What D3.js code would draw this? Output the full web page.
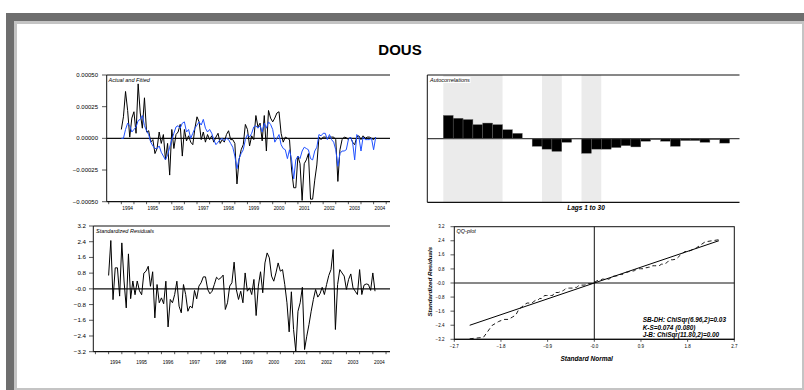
<!DOCTYPE html>
<html>
<head>
<meta charset="utf-8">
<script src="https://cdn.jsdelivr.net/npm/d3@7"></script>
<style>
  body { margin: 0; background: #fff; }
  svg { display: block; font-family: "Liberation Sans", Arial, sans-serif; }
</style>
</head>
<body>
<svg id="chart" width="804" height="390"></svg>
<script>
// ---- data -----------------------------------------------------------------
// monthly observations starting January 1994
const firstYear = 1994;

// actual series, in units of 1e-4
const actualE4 = [0.7, 1.7, 3.7, 2.2, 0.1, 1.6, 2.1, 0.4, 4.3, 2.0, 0.8, 3.2,
  0.5, 0.6, -0.3, -0.1, -1.2, -0.8, 0.5, -0.4, 0.3, -1.7, -0.4, -2.9,
  0.7, -0.8, 0.3, 0.5, 1.1, -1.4, 0.7, -0.2, 0.2, -0.3, -0.5, 0.8,
  1.7, 1.3, -0.1, 0.5, -0.3, 0.3, -0.1, 0.2, -0.3, 0.1, 0.4, -0.4,
  -0.1, -0.3, 0.3, 0.6, -0.1, -0.1, -0.4, -3.6, -1.7, -0.9, -0.5, 1.1,
  0.7, -0.6, 0.2, -0.1, 1.8, 0.9, 1.2, -0.2, 1.8, -1.0, 2.2, 1.6,
  1.3, 1.6, 2.0, 2.1, 0.4, -0.3, 0.1, 0.0, -0.1, -2.5, -3.9, -3.9,
  -1.4, -2.0, -4.9, -2.0, -1.7, -1.2, -4.8, -4.8, -3.3, -2.1, 0.1, -0.1,
  0.1, 0.1, 0.0, 0.1, 0.1, 0.1, -0.1, -3.4, -0.9, -0.1, 0.1, 0.05,
  -0.1, 0.1, -0.3, -0.5, 0.1, 0.2, -0.1, 0.2, 0.0, 0.1, 0.1, 0.0,
  -0.1, 0.1];

// fitted series, in units of 1e-4
const fittedE4 = [0.0, 0.0, 0.7, 1.2, 1.0, 0.5, 0.7, 0.9, 1.4, 1.5, 1.8, 1.0,
  0.6, 0.3, -0.3, -0.6, -0.8, -0.8, -0.6, -1.1, -1.4, -1.7, -1.3, -0.7,
  -0.1, 0.4, 0.9, 1.0, 0.8, 1.2, 1.3, 0.5, 0.7, 0.0, 0.4, 0.8,
  1.05, 1.3, 1.05, 1.5, 0.8, 0.5, 0.7, 0.4, -0.1, -0.5, -0.3, -0.1,
  0.0, -0.2, 0.0, -0.1, -0.4, -0.7, -1.4, -2.4, -1.6, -1.2, -0.9, -0.1,
  0.3, 0.1, 0.4, 0.9, 1.0, 0.8, 1.0, 0.5, 1.2, 0.8, 1.3, 1.1,
  0.7, -0.3, 0.0, 0.3, -0.5, -0.8, -0.9, -1.6, -0.9, -1.7, -3.2, -1.7,
  -1.4, -1.6, -1.0, -0.7, -0.8, -0.9, -1.6, -1.7, -1.0, -0.7, 0.3, 0.2,
  0.4, 0.4, -0.1, 0.3, -0.1, -0.3, -0.9, -2.2, -1.2, -1.0, -1.0, -0.9,
  -0.1, 0.1, -0.3, -1.7, 0.3, 0.1, -1.0, 0.1, -0.1, -0.1, -0.1, 0.0,
  -0.9, 0.1];

// standardized residuals
const stdResid = [0.68, 2.46, -0.55, 1.07, 1.07, -0.37, 2.34, 0.4, -0.97, 1.78, -0.5, 0.4,
  -0.3, 0.4, -0.1, -0.3, 0.8, 0.9, 1.15, 0.13, 0.87, -1.48, 0.22, -0.71,
  -0.46, -0.76, 0.39, -1.94, -0.54, -0.71, -0.29, 0.39, -0.88, -1.22, 0.22, -0.29,
  -1.14, -0.88, -0.97, -0.08, -0.51, 0.14, 0.31, 0.61, 0.61, -0.03, -0.25, -0.12,
  0.22, 0.59, 0.48, 0.56, 0.7, -1.05, -0.71, 0.14, 0.31, 1.36, -0.03, -0.54,
  -0.12, -0.71, 0.81, -0.12, 0.05, -0.29, 0.48, -1.36, 0.14, 0.87, -0.2, 1.32,
  1.83, 1.58, 0.65, 0.39, 0.81, 1.32, 0.9, 0.98, 0.22, -0.71, -2.19, -0.15,
  -2.07, -3.17, -1.14, -0.71, 0.08, -3.09, -2.41, -1.82, -1.14, -0.54, -0.03, -0.42,
  -0.25, 0.08, -0.29, 0.22, 0.68, 0.98, 2.0, -2.07, 0.22, 0.98, 0.81, 0.65,
  -0.03, 0.48, 0.76, 0.05, -0.12, -0.29, 0.98, -0.29, 0.19, 0.25, 0.22, -0.08,
  0.81, -0.12];

// autocorrelations of the residuals, lags 1..30
const acf = [0.365, 0.32, 0.30, 0.22, 0.245, 0.22, 0.14, 0.083, 0.0, -0.12,
  -0.165, -0.20, -0.057, -0.005, -0.23, -0.165, -0.165, -0.14, -0.11, -0.13,
  -0.04, -0.015, -0.04, -0.12, -0.03, -0.03, -0.057, -0.015, -0.07, 0.0];
// lag ranges highlighted behind the bars
const acfBands = [[1, 6], [11, 12], [15, 16]];

// tick labels
const years = d3.range(1994, 2005);
const fitTicks = [0.0005, 0.00025, 0, -0.00025, -0.0005];
const residTicks = [3.2, 2.4, 1.6, 0.8, 0, -0.8, -1.6, -2.4, -3.2];
const qqXTicks = [-2.7, -1.8, -0.9, 0, 0.9, 1.8, 2.7];
const testLines = ["SB-DH: ChiSqr(6.96,2)=0.03", "K-S=0.074 (0.080)", "J-B: ChiSqr(11.80,2)=0.00"];

const actual = actualE4.map(v => v * 1e-4);
const fitted = fittedE4.map(v => v * 1e-4);
const monthT = i => firstYear + i / 12;

// ---- drawing --------------------------------------------------------------
const svg = d3.select("#chart");

// window frame
svg.append("rect").attr("x", 6).attr("y", 13).attr("width", 798).attr("height", 377).attr("fill", "#6e6e6e");
svg.append("rect").attr("x", 14).attr("y", 21).attr("width", 790).attr("height", 369).attr("fill", "#c4c4c4");
svg.append("rect").attr("x", 17).attr("y", 24).attr("width", 785).attr("height", 364).attr("fill", "#fff");

svg.append("text").attr("x", 400).attr("y", 55).attr("text-anchor", "middle")
  .attr("font-size", 15).attr("font-weight", "bold").text("DOUS");

const fmt1 = v => (v === 0 ? "-0.0" : d3.format(".1f")(v));
const ink = "#111";

function label(g, x, y, txt) {
  const t = g.append("text").attr("x", x).attr("y", y).attr("font-size", 5.5)
    .attr("font-style", "italic").text(txt);
  const b = t.node().getBBox();
  g.insert("rect", "text").attr("x", b.x - 0.5).attr("y", b.y).attr("width", b.width + 1)
    .attr("height", b.height).attr("fill", "#fff");
}

function timeAxis(g, x, yBottom, yLabel) {
  const ticks = d3.range(1993.5, 2005, 0.5).filter(t => t >= x.domain()[0] && t <= x.domain()[1]);
  g.selectAll(null).data(ticks).join("line")
    .attr("x1", d => x(d)).attr("x2", d => x(d))
    .attr("y1", yBottom).attr("y2", yBottom + 2.5).attr("stroke", ink).attr("stroke-width", 0.7);
  g.selectAll(null).data(years).join("text")
    .attr("x", d => x(d + 0.25)).attr("y", yLabel).attr("text-anchor", "middle")
    .attr("font-size", 4.8).text(d => d);
}

// -- Actual and Fitted
{
  const g = svg.append("g");
  const x = d3.scaleLinear().domain([1993.42, 2004.65]).range([106.7, 390]);
  const y = d3.scaleLinear().domain([-0.0005, 0.0005]).range([201.7, 75]);
  g.selectAll(null).data(fitTicks).join("line")
    .attr("x1", 102).attr("x2", x.range()[0]).attr("y1", d => y(d)).attr("y2", d => y(d))
    .attr("stroke", ink).attr("stroke-width", 0.7);
  g.selectAll(null).data(fitTicks).join("text")
    .attr("x", 98).attr("y", d => y(d) + 2).attr("text-anchor", "end").attr("font-size", 6)
    .text(d => d3.format(".5f")(d));
  g.append("line").attr("x1", x.range()[0]).attr("x2", x.range()[1]).attr("y1", y(0)).attr("y2", y(0))
    .attr("stroke", ink).attr("stroke-width", 1.1);
  const line = d3.line().x((d, i) => x(monthT(i))).y(d => y(d));
  g.append("path").datum(actual).attr("d", line).attr("fill", "none").attr("stroke", "#000").attr("stroke-width", 1);
  g.append("path").datum(fitted).attr("d", line).attr("fill", "none").attr("stroke", "#1f50ff").attr("stroke-width", 1);
  g.append("path").attr("d", `M${x.range()[0]},${y.range()[0]}V${y.range()[1]}H${x.range()[1]}`)
    .attr("fill", "none").attr("stroke", ink).attr("stroke-width", 1);
  g.append("line").attr("x1", x.range()[0]).attr("x2", x.range()[1]).attr("y1", y.range()[0]).attr("y2", y.range()[0])
    .attr("stroke", ink).attr("stroke-width", 1.2);
  timeAxis(g, x, y.range()[0], 209.5);
  label(g, 108.5, 82, "Actual and Fitted");
}

// -- Autocorrelations
{
  const g = svg.append("g");
  const x = d3.scaleLinear().domain([-1.62, 30]).range([427.3, 739.5]);
  const y = d3.scaleLinear().domain([-1, 1]).range([202.3, 75]);
  g.selectAll(null).data(acfBands).join("rect")
    .attr("x", d => x(d[0] - 1)).attr("width", d => x(d[1]) - x(d[0] - 1))
    .attr("y", y(1)).attr("height", y(-1) - y(1)).attr("fill", "#ebebeb");
  g.selectAll(null).data(acf).join("rect")
    .attr("x", (d, i) => x(i)).attr("width", x(1) - x(0))
    .attr("y", d => y(Math.max(d, 0))).attr("height", d => Math.abs(y(d) - y(0)))
    .attr("fill", "#000").attr("stroke", "#666").attr("stroke-width", 0.4);
  g.append("line").attr("x1", x.range()[0]).attr("x2", x.range()[1]).attr("y1", y(0)).attr("y2", y(0))
    .attr("stroke", "#444").attr("stroke-width", 1.1);
  g.append("path").attr("d", `M${x.range()[0]},${y.range()[0]}V${y.range()[1]}H${x.range()[1]}`)
    .attr("fill", "none").attr("stroke", ink).attr("stroke-width", 1);
  g.append("line").attr("x1", x.range()[0]).attr("x2", x.range()[1]).attr("y1", y.range()[0]).attr("y2", y.range()[0])
    .attr("stroke", ink).attr("stroke-width", 1.2);
  g.append("text").attr("x", 586).attr("y", 210).attr("text-anchor", "middle").attr("font-size", 6.5)
    .attr("font-weight", "bold").attr("font-style", "italic").text("Lags 1 to 30");
  label(g, 430, 82, "Autocorrelations");
}

// -- Standardized Residuals
{
  const g = svg.append("g");
  const x = d3.scaleLinear().domain([1993.42, 2004.65]).range([93.3, 390]);
  const y = d3.scaleLinear().domain([-3.2, 3.2]).range([351.7, 226]);
  g.selectAll(null).data(residTicks).join("line")
    .attr("x1", 89).attr("x2", x.range()[0]).attr("y1", d => y(d)).attr("y2", d => y(d))
    .attr("stroke", ink).attr("stroke-width", 0.7);
  g.selectAll(null).data(residTicks).join("text")
    .attr("x", 86).attr("y", d => y(d) + 2).attr("text-anchor", "end").attr("font-size", 6.2)
    .text(fmt1);
  g.append("line").attr("x1", x.range()[0]).attr("x2", x.range()[1]).attr("y1", y(0)).attr("y2", y(0))
    .attr("stroke", ink).attr("stroke-width", 1.1);
  const line = d3.line().x((d, i) => x(monthT(i))).y(d => y(d));
  g.append("path").datum(stdResid).attr("d", line).attr("fill", "none").attr("stroke", "#000").attr("stroke-width", 1);
  g.append("path").attr("d", `M${x.range()[0]},${y.range()[0]}V${y.range()[1]}H${x.range()[1]}`)
    .attr("fill", "none").attr("stroke", ink).attr("stroke-width", 1);
  g.append("line").attr("x1", x.range()[0]).attr("x2", x.range()[1]).attr("y1", y.range()[0]).attr("y2", y.range()[0])
    .attr("stroke", ink).attr("stroke-width", 1.2);
  timeAxis(g, x, y.range()[0], 363.5);
  label(g, 96, 232.5, "Standardized Residuals");
}

// -- QQ-plot of the standardized residuals against normal quantiles
{
  const g = svg.append("g");
  const x = d3.scaleLinear().domain([-2.7, 2.7]).range([454.3, 734.3]);
  const y = d3.scaleLinear().domain([-3.2, 3.2]).range([339.3, 226.7]);
  const n = stdResid.length;
  const sorted = stdResid.slice().sort(d3.ascending);
  const normal = d3.randomNormal; // not used for data; quantiles come from the inverse CDF below
  // inverse standard normal CDF (Acklam's rational approximation)
  function qnorm(p) {
    const a = [-39.69683028665376, 220.9460984245205, -275.9285104469687, 138.3577518672690, -30.66479806614716, 2.506628277459239];
    const b = [-54.47609879822406, 161.5858368580409, -155.6989798598866, 66.80131188771972, -13.28068155288572];
    const c = [-0.007784894002430293, -0.3223964580411365, -2.400758277161838, -2.549732539343734, 4.374664141464968, 2.938163982698783];
    const d = [0.007784695709041462, 0.3224671290700398, 2.445134137142996, 3.754408661907416];
    const pl = 0.02425;
    if (p < pl) { const q = Math.sqrt(-2 * Math.log(p));
      return (((((c[0]*q+c[1])*q+c[2])*q+c[3])*q+c[4])*q+c[5]) / ((((d[0]*q+d[1])*q+d[2])*q+d[3])*q+1); }
    if (p > 1 - pl) { const q = Math.sqrt(-2 * Math.log(1 - p));
      return -(((((c[0]*q+c[1])*q+c[2])*q+c[3])*q+c[4])*q+c[5]) / ((((d[0]*q+d[1])*q+d[2])*q+d[3])*q+1); }
    const q = p - 0.5, r = q * q;
    return (((((a[0]*r+a[1])*r+a[2])*r+a[3])*r+a[4])*r+a[5])*q / (((((b[0]*r+b[1])*r+b[2])*r+b[3])*r+b[4])*r+1);
  }
  const qq = sorted.map((v, i) => [qnorm((i + 1) / (n + 1)), v]);

  g.selectAll(null).data(residTicks).join("line")
    .attr("x1", 450.5).attr("x2", x.range()[0]).attr("y1", d => y(d)).attr("y2", d => y(d))
    .attr("stroke", ink).attr("stroke-width", 0.7);
  g.selectAll(null).data(residTicks).join("text")
    .attr("x", 444.5).attr("y", d => y(d) + 1.6).attr("text-anchor", "end").attr("font-size", 4.5)
    .text(fmt1);
  g.selectAll(null).data(qqXTicks).join("line")
    .attr("x1", d => x(d)).attr("x2", d => x(d)).attr("y1", y.range()[0]).attr("y2", y.range()[0] + 2.5)
    .attr("stroke", ink).attr("stroke-width", 0.7);
  g.selectAll(null).data(qqXTicks).join("text")
    .attr("x", d => x(d)).attr("y", 348.3).attr("text-anchor", "middle").attr("font-size", 4.5)
    .text(fmt1);

  g.append("line").attr("x1", x.range()[0]).attr("x2", x.range()[1]).attr("y1", y(0)).attr("y2", y(0))
    .attr("stroke", ink).attr("stroke-width", 1);
  g.append("line").attr("x1", x(0)).attr("x2", x(0)).attr("y1", y.range()[0]).attr("y2", y.range()[1])
    .attr("stroke", ink).attr("stroke-width", 1);

  const ext = d3.extent(qq, d => d[0]);
  g.append("line").attr("x1", x(ext[0])).attr("y1", y(ext[0])).attr("x2", x(ext[1])).attr("y2", y(ext[1]))
    .attr("stroke", "#000").attr("stroke-width", 1);
  g.append("path").datum(qq).attr("d", d3.line().x(d => x(d[0])).y(d => y(d[1])))
    .attr("fill", "none").attr("stroke", "#000").attr("stroke-width", 0.9).attr("stroke-dasharray", "4,3");

  g.append("rect").attr("x", x.range()[0]).attr("y", y.range()[1])
    .attr("width", x.range()[1] - x.range()[0]).attr("height", y.range()[0] - y.range()[1])
    .attr("fill", "none").attr("stroke", ink).attr("stroke-width", 1);
  g.append("line").attr("x1", x.range()[0]).attr("x2", x.range()[1]).attr("y1", y.range()[0]).attr("y2", y.range()[0])
    .attr("stroke", ink).attr("stroke-width", 1.2);

  g.selectAll(null).data(testLines).join("text")
    .attr("x", 642.7).attr("y", (d, i) => 322.3 + i * 7.5).attr("font-size", 6.4)
    .attr("font-weight", "bold").attr("font-style", "italic").text(d => d);
  g.append("text").attr("x", 586.7).attr("y", 361.3).attr("text-anchor", "middle").attr("font-size", 6.5)
    .attr("font-weight", "bold").attr("font-style", "italic").text("Standard Normal");
  g.append("text").attr("transform", "translate(432,281.7) rotate(-90)").attr("text-anchor", "middle")
    .attr("font-size", 6.2).attr("font-weight", "bold").attr("font-style", "italic").text("Standardized Residuals");
  label(g, 456.5, 233, "QQ-plot");
}
</script>
</body>
</html>
